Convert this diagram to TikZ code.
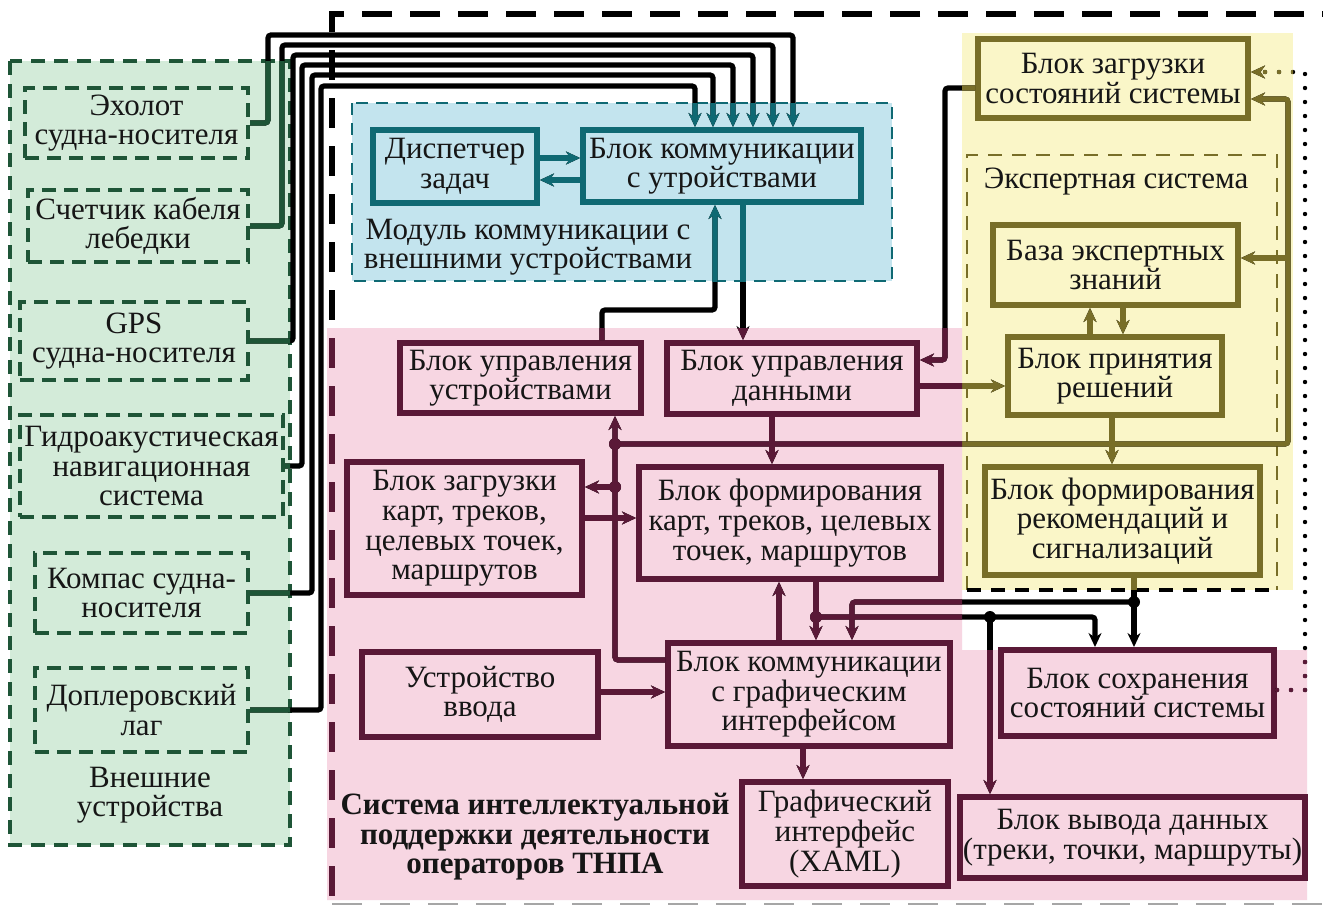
\documentclass[tikz,border=0pt]{standalone}
\usepackage{fontspec}
\setmainfont{Liberation Serif}
\usetikzlibrary{arrows.meta}
\definecolor{gfill}{HTML}{D3EBD9}
\definecolor{gline}{HTML}{1E5537}
\definecolor{bfill}{HTML}{C3E4EE}
\definecolor{bline}{HTML}{0F6973}
\definecolor{pfill}{HTML}{F7D6E2}
\definecolor{pline}{HTML}{5A1937}
\definecolor{yfill}{HTML}{FAF6C8}
\definecolor{yline}{HTML}{786E28}
\definecolor{txt}{HTML}{161616}
\colorlet{cc}{black}
\newcommand\fs{\fontsize{15.5pt}{14.8pt}\selectfont}
\newcommand\Bx[7]{%
  \pgfmathsetmacro\bcx{(#3+#5)/2}\pgfmathsetmacro\bcy{(#4+#6)/2}%
  \pgfmathsetmacro\bw{(#5-#3)*0.5}\pgfmathsetmacro\bh{(#6-#4)*0.5}%
  \node[#1, minimum width=\bw pt, minimum height=\bh pt] (#2) at (\bcx,\bcy) {#7};}
\newcommand\conns{%
  \draw[draw=cc, line width=2.6pt, dash pattern=on 15pt off 9pt] (1400,14) -- (332,14) -- (332,910);
  \draw[a] (eho.east) -| (268,35) -| (kbu.north -| 793,0);
  \draw[a] (sch.east) -| (282,45) -| (kbu.north -| 773,0);
  \draw[a] (gps.east) -| (293,55) -| (kbu.north -| 753,0);
  \draw[a] (gid.east) -| (302,65) -| (kbu.north -| 733,0);
  \draw[a] (kom.east) -| (312,75) -| (kbu.north -| 713,0);
  \draw[a] (dop.east) -| (321,86) -| (kbu.north -| 695,0);
  \draw[a] (disp.east |- 0,158) -- (kbu.west |- 0,158);
  \draw[a] (kbu.west |- 0,180) -- (disp.east |- 0,180);
  \draw[a] (buu.north -| 602,0) |- (715,310) -- (kbu.south -| 715,0);
  \draw[a] (kbu.south -| 743,0) -- (bud.north -| 743,0);
  \draw[a] (zss.west |- 0,88) -| (945,360) -- (bud.east |- 0,360);
  \draw[a] (bud.east |- 0,386) -- (bpr.west |- 0,386);
  \draw[a] (bpr.north -| 1090,0) -- (bez.south -| 1090,0);
  \draw[a] (bez.south -| 1123,0) -- (bpr.north -| 1123,0);
  \draw[a] (bpr.south -| 1112,0) -- (bfr.north -| 1112,0);
  \draw[a] (bud.south -| 772,0) -- (bfk.north -| 772,0);
  \draw[a] (bkg.west |- 0,660) -| (buu.south -| 615,0);
  \coordinate (j1) at (615,444);
  \coordinate (j2) at (615,487);
  \coordinate (j3) at (1288,258);
  \draw[a] (j1) -| (1288,99) -- (zss.east |- 0,99);
  \draw[a] (j3) -- (bez.east |- j3);
  \draw[a] (j2) -- (bzk.east |- j2);
  \draw[a] (bzk.east |- 0,518) -- (bfk.west |- 0,518);
  \draw[a] (uvv.east |- 0,692) -- (bkg.west |- 0,692);
  \draw[a] (bkg.north -| 779,0) -- (bfk.south -| 779,0);
  \coordinate (j4) at (816,617);
  \coordinate (j5) at (990,617);
  \coordinate (j6) at (1134,602);
  \draw[c] (bfk.south -| j4) -- (j4);
  \draw[a] (j4) -- (bkg.north -| j4);
  \draw[a] (j4) -| (bss.north -| 1095,0);
  \draw[a] (j5) -- (bvd.north -| j5);
  \draw[c] (bfr.south -| j6) -- (j6);
  \draw[a] (j6) -- (bss.north -| j6);
  \draw[a] (j6) -| (bkg.north -| 852,0);
  \draw[a] (bkg.south -| 803,0) -- (gui.north -| 803,0);
  \draw[a, line width=2.2pt, dash pattern=on 0pt off 7pt, line cap=round, rounded corners=0pt] (bss.east |- 0,690) -| (1305,72) -- (zss.east |- 0,72);
  \foreach \j in {j1,j2,j4,j5,j6} \fill[cc] (\j) circle (3pt);
}
\begin{document}
\begin{tikzpicture}[x=0.5pt,y=-0.5pt,
  c/.style={draw=cc, line width=2.6pt, rounded corners=1.5pt},
  a/.style={c, -{Stealth[length=7pt,width=6.5pt]}},
  box/.style={line width=3pt, align=center, inner sep=0pt, font=\fs, text=txt},
  gbox/.style={box, draw=gline, line width=2.2pt, dash pattern=on 7pt off 4pt},
  bbox/.style={box, draw=bline},
  pbox/.style={box, draw=pline},
  ybox/.style={box, draw=yline},
  lbl/.style={align=center, font=\fs, text=txt}]
\useasboundingbox (0,0) rectangle (1323,905);
% region fills
\fill[white] (0,0) rectangle (1323,905);
\fill[gfill] (10,61) rectangle (290,845);
\fill[bfill] (352,103) rectangle (892,281);
\fill[yfill] (962,33) rectangle (1293,590);
\fill[pfill] (327,328) -- (962,328) -- (962,650) -- (1307,650) -- (1307,900) -- (327,900) -- cycle;
% region borders
\draw[gline, line width=2.2pt, dash pattern=on 7pt off 4.5pt] (10,61) rectangle (290,845);
\draw[bline, line width=1.4pt, dash pattern=on 6pt off 4pt] (352,103) rectangle (892,281);
\draw[yline, line width=1.4pt, dash pattern=on 7pt off 5pt] (967,590) -- (967,155) -- (1277,155) -- (1277,590);
\draw[black, line width=1.8pt, dash pattern=on 7pt off 5pt] (967,590) -- (1277,590);
\draw[black!35, line width=2.5pt, dash pattern=on 15pt off 9pt] (332,905) -- (1400,905);
% green boxes
\Bx{gbox}{eho}{25}{88}{248}{158}{Эхолот\\судна-носителя}
\Bx{gbox}{sch}{28}{190}{248}{262}{Счетчик кабеля\\лебедки}
\Bx{gbox}{gps}{20}{302}{248}{380}{GPS\\судна-носителя}
\Bx{gbox}{gid}{20}{415}{283}{517}{Гидроакустическая\\навигационная\\система}
\Bx{gbox}{kom}{35}{553}{248}{633}{Компас судна-\\носителя}
\Bx{gbox}{dop}{35}{668}{248}{752}{Доплеровский\\лаг}
\node[lbl] (lext) at (150,795) {Внешние\\устройства};
% blue boxes
\Bx{bbox}{disp}{373}{130}{537}{203}{Диспетчер\\задач}
\Bx{bbox}{kbu}{583}{130}{861}{202}{Блок коммуникации\\с утройствами}
\node[lbl] (lmod) at (528,247) {Модуль коммуникации с\\внешними устройствами};
% yellow boxes
\Bx{ybox}{zss}{978}{39}{1248}{118}{Блок загрузки\\состояний системы}
\Bx{ybox}{bez}{993}{225}{1238}{305}{База экспертных\\знаний}
\Bx{ybox}{bpr}{1008}{337}{1222}{415}{Блок принятия\\решений}
\Bx{ybox}{bfr}{985}{467}{1260}{575}{Блок формирования\\рекомендаций и\\сигнализаций}
\node[lbl] (lexp) at (1116,182) {Экспертная система};
% pink boxes
\Bx{pbox}{buu}{400}{343}{641}{413}{Блок управления\\устройствами}
\Bx{pbox}{bud}{667}{343}{917}{414}{Блок управления\\данными}
\Bx{pbox}{bzk}{347}{462}{582}{595}{Блок загрузки\\карт, треков,\\целевых точек,\\маршрутов}
\Bx{pbox}{bfk}{639}{467}{941}{579}{Блок формирования\\карт, треков, целевых\\точек, маршрутов}
\Bx{pbox}{uvv}{362}{652}{598}{737}{Устройство\\ввода}
\Bx{pbox}{bkg}{668}{643}{950}{746}{Блок коммуникации\\с графическим\\интерфейсом}
\Bx{pbox}{gui}{742}{782}{948}{886}{Графический\\интерфейс\\(XAML)}
\Bx{pbox}{bss}{1001}{650}{1274}{736}{Блок сохранения\\состояний системы}
\Bx{pbox}{bvd}{960}{797}{1305}{878}{Блок вывода данных\\(треки, точки, маршруты)}
\node[lbl, font=\fs\bfseries] (lsys) at (535,837) {Система интеллектуальной\\поддержки деятельности\\операторов ТНПА};
% connectors: black, then tinted inside each region
\conns
\begin{scope}\clip (10,61) rectangle (290,845); \colorlet{cc}{gline}\conns\end{scope}
\begin{scope}\clip (352,103) rectangle (892,281); \colorlet{cc}{bline}\conns\end{scope}
\begin{scope}\clip (962,33) rectangle (1293,589); \colorlet{cc}{yline}\conns\end{scope}
\begin{scope}\clip (327,328) -- (962,328) -- (962,650) -- (1307,650) -- (1307,900) -- (327,900) -- cycle; \colorlet{cc}{pline}\conns\end{scope}
\end{tikzpicture}
\end{document}
